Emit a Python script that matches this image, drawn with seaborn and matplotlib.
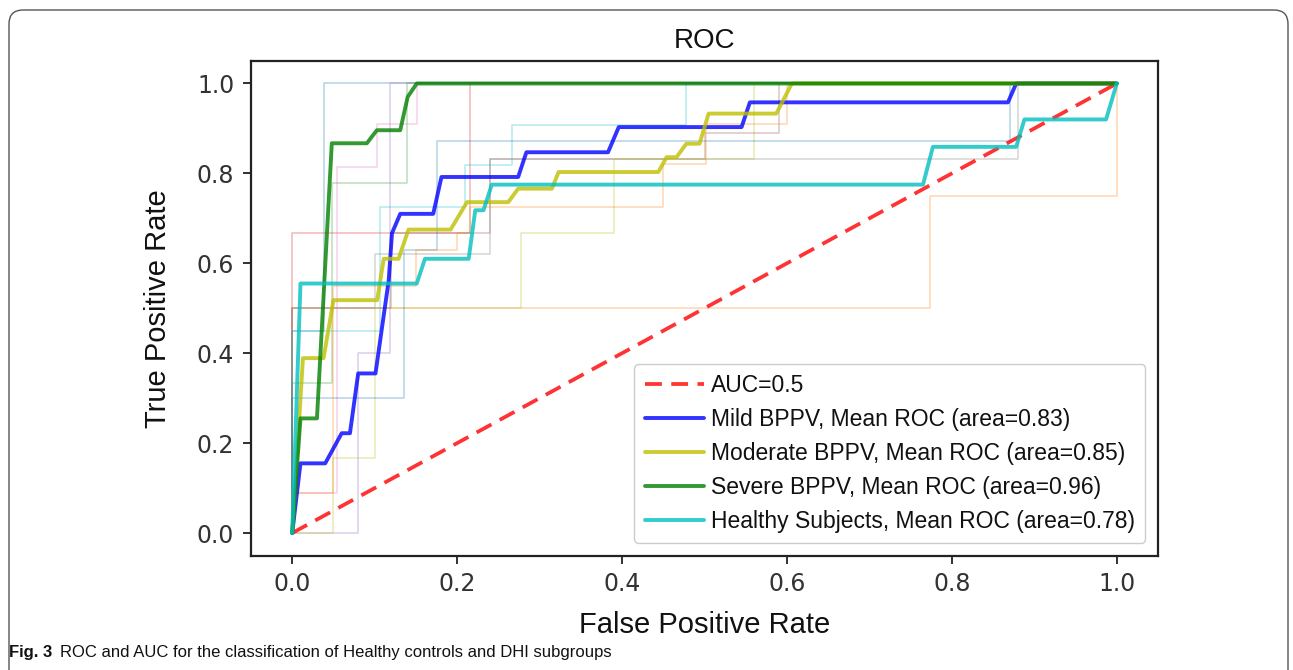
import numpy as np
import pandas as pd
import matplotlib
matplotlib.use("Agg")
import matplotlib.pyplot as plt
import seaborn as sns
from matplotlib.patches import FancyBboxPatch
from matplotlib.transforms import IdentityTransform

# ---------------- data ----------------
# Mean ROC curves (false positive rate, true positive rate)
mild_fpr = [0, 0.010, 0.040, 0.060, 0.070, 0.080, 0.101, 0.117, 0.121, 0.131, 0.171, 0.181,
            0.274, 0.284, 0.383, 0.396, 0.545, 0.555, 0.868, 0.878, 1.0]
mild_tpr = [0, 0.155, 0.155, 0.222, 0.222, 0.355, 0.355, 0.562, 0.667, 0.710, 0.710, 0.792,
            0.792, 0.847, 0.847, 0.903, 0.903, 0.958, 0.958, 1.0, 1.0]

moderate_fpr = [0, 0.013, 0.038, 0.050, 0.103, 0.111, 0.129, 0.141, 0.192, 0.212, 0.262, 0.274,
                0.315, 0.323, 0.444, 0.454, 0.466, 0.478, 0.494, 0.505, 0.587, 0.606, 1.0]
moderate_tpr = [0, 0.389, 0.389, 0.518, 0.518, 0.610, 0.610, 0.675, 0.675, 0.736, 0.736, 0.766,
                0.766, 0.803, 0.803, 0.836, 0.836, 0.866, 0.866, 0.933, 0.933, 1.0, 1.0]

severe_fpr = [0, 0.010, 0.030, 0.048, 0.0905, 0.1026, 0.131, 0.140, 0.151, 1.0]
severe_tpr = [0, 0.255, 0.255, 0.867, 0.867, 0.896, 0.896, 0.970, 1.0, 1.0]

healthy_fpr = [0, 0.010, 0.151, 0.161, 0.214, 0.222, 0.232, 0.242, 0.765, 0.777, 0.878, 0.888, 0.987, 1.0]
healthy_tpr = [0, 0.555, 0.555, 0.610, 0.610, 0.718, 0.718, 0.775, 0.775, 0.859, 0.859, 0.920, 0.920, 1.0]

chance_fpr = [0, 1]
chance_tpr = [0, 1]

mean_labels = ["Mild BPPV, Mean ROC (area=0.83)",
               "Moderate BPPV, Mean ROC (area=0.85)",
               "Severe BPPV, Mean ROC (area=0.96)",
               "Healthy Subjects, Mean ROC (area=0.78)"]
chance_label = "AUC=0.5"

# Individual fold ROC curves (faint)
fold_fpr = [
    [0, 0, 0.039, 0.039, 1],
    [0, 0, 0.773, 0.773, 1, 1],
    [0, 0, 0.048, 0.048, 0.139, 0.139, 1],
    [0, 0, 0.216, 0.216, 1],
    [0, 0.080, 0.080, 0.119, 0.119, 1],
    [0, 0, 0.12, 0.12, 0.24, 0.24, 0.5, 0.5, 0.59, 0.59, 1],
    [0, 0, 0.054, 0.054, 0.103, 0.103, 0.151, 0.151, 1],
    [0, 0, 0.10, 0.10, 0.24, 0.24, 0.88, 0.88, 1],
    [0, 0.05, 0.05, 0.10, 0.10, 0.278, 0.278, 0.39, 0.39, 0.56, 0.56, 1],
    [0, 0, 0.107, 0.107, 0.21, 0.21, 0.266, 0.266, 0.478, 0.478, 1],
    [0, 0, 0.135, 0.135, 0.175, 0.175, 0.87, 0.87, 1],
    [0, 0, 0.05, 0.05, 0.15, 0.15, 0.20, 0.20, 0.216, 0.216, 0.45, 0.45, 0.502, 0.502, 0.60, 0.60, 1],
]
fold_tpr = [
    [0, 0.45, 0.45, 1, 1],
    [0, 0.5, 0.5, 0.75, 0.75, 1],
    [0, 0.333, 0.333, 0.778, 0.778, 1, 1],
    [0, 0.667, 0.667, 1, 1],
    [0, 0, 0.40, 0.40, 1, 1],
    [0, 0.5, 0.5, 0.667, 0.667, 0.833, 0.833, 0.889, 0.889, 1, 1],
    [0, 0.09, 0.09, 0.814, 0.814, 0.910, 0.910, 1, 1],
    [0, 0.5, 0.5, 0.62, 0.62, 0.833, 0.833, 1, 1],
    [0, 0, 0.167, 0.167, 0.5, 0.5, 0.667, 0.667, 0.833, 0.833, 1, 1],
    [0, 0.45, 0.45, 0.725, 0.725, 0.818, 0.818, 0.907, 0.907, 1, 1],
    [0, 0.30, 0.30, 0.63, 0.63, 0.873, 0.873, 1, 1],
    [0, 0.09, 0.09, 0.55, 0.55, 0.63, 0.63, 0.667, 0.667, 0.725, 0.725, 0.82, 0.82, 0.91, 0.91, 1, 1],
]

ticks = [0.0, 0.2, 0.4, 0.6, 0.8, 1.0]
tick_labels = ["0.0", "0.2", "0.4", "0.6", "0.8", "1.0"]

# ---------------- plot ----------------
sns.set_theme(style="ticks", color_codes=False)
plt.rcParams['font.family'] = ['Liberation Sans', 'DejaVu Sans']

W, H = 1293, 670
fig = plt.figure(figsize=(W / 100, H / 100), dpi=100)
ax_l, ax_r, ax_t, ax_b = 251, 1158, 61, 555.5
ax = fig.add_axes([ax_l / W, 1 - ax_b / H, (ax_r - ax_l) / W, (ax_b - ax_t) / H])

tab10 = sns.color_palette("tab10")
for i, (f, t) in enumerate(zip(fold_fpr, fold_tpr)):
    sns.lineplot(x=f, y=t, sort=False, estimator=None, color=tab10[i % 10],
                 alpha=0.33, lw=1.1, ax=ax)

sns.lineplot(x=chance_fpr, y=chance_tpr, sort=False, estimator=None, color="#FF0000",
             linestyle=(0, (4.5, 2.5)), lw=2.7, alpha=0.8, label=chance_label, ax=ax)

mean_colors = ["#0000FF", "#BFBF00", "#008000", "#00BFBF"]
mean_curves = [(mild_fpr, mild_tpr), (moderate_fpr, moderate_tpr),
               (severe_fpr, severe_tpr), (healthy_fpr, healthy_tpr)]
for (f, t), c, lab in zip(mean_curves, mean_colors, mean_labels):
    sns.lineplot(x=f, y=t, sort=False, estimator=None, color=c, lw=2.8,
                 alpha=0.8, label=lab, ax=ax)

ax.set_xlim(-0.05, 1.05)
ax.set_ylim(-0.05, 1.05)
ax.set_xticks(ticks)
ax.set_yticks(ticks)
ax.set_xticklabels(tick_labels, family="DejaVu Sans", fontsize=17, color="#333333")
ax.set_yticklabels(tick_labels, family="DejaVu Sans", fontsize=17, color="#333333")
ax.tick_params(direction="out", length=6, width=1.3, color="#222222", pad=6)
for sp in ax.spines.values():
    sp.set_linewidth(1.6)
    sp.set_color("#222222")

ax.set_xlabel("False Positive Rate", fontsize=21, color="#111111", labelpad=11)
ax.set_ylabel("True Positive Rate", fontsize=21, color="#111111", labelpad=18)
ax.set_title("ROC", fontsize=20, color="#111111", pad=9)

leg = ax.legend(loc="lower right", fontsize=16.5, handlelength=2.6, handletextpad=0.3,
                labelspacing=0.47, borderpad=0.45, borderaxespad=0.55, frameon=True,
                fancybox=True, framealpha=1, edgecolor="#cccccc")
for txt in leg.get_texts():
    txt.set_color("#111111")

# outer figure frame (journal style)
frame = FancyBboxPatch((9, -30), 1288 - 9, 660 + 30, boxstyle="round,pad=0,rounding_size=14",
                       transform=IdentityTransform(), facecolor="none", edgecolor="#555555",
                       lw=1.0, clip_on=False)
fig.add_artist(frame)

# caption
cap_font = ['Liberation Sans Narrow', 'Liberation Sans']
t1 = fig.text(9 / W, 1 - 653 / H, "Fig. 3", family=cap_font, weight="bold", fontsize=12,
              va="center", ha="left", color="#111111")
fig.canvas.draw()
bb = t1.get_window_extent()
fig.text((bb.x1 + 8) / W, 1 - 653 / H,
         "ROC and AUC for the classification of Healthy controls and DHI subgroups",
         family=cap_font, fontsize=12, va="center", ha="left", color="#111111")

fig.savefig("out.png", dpi=100)
